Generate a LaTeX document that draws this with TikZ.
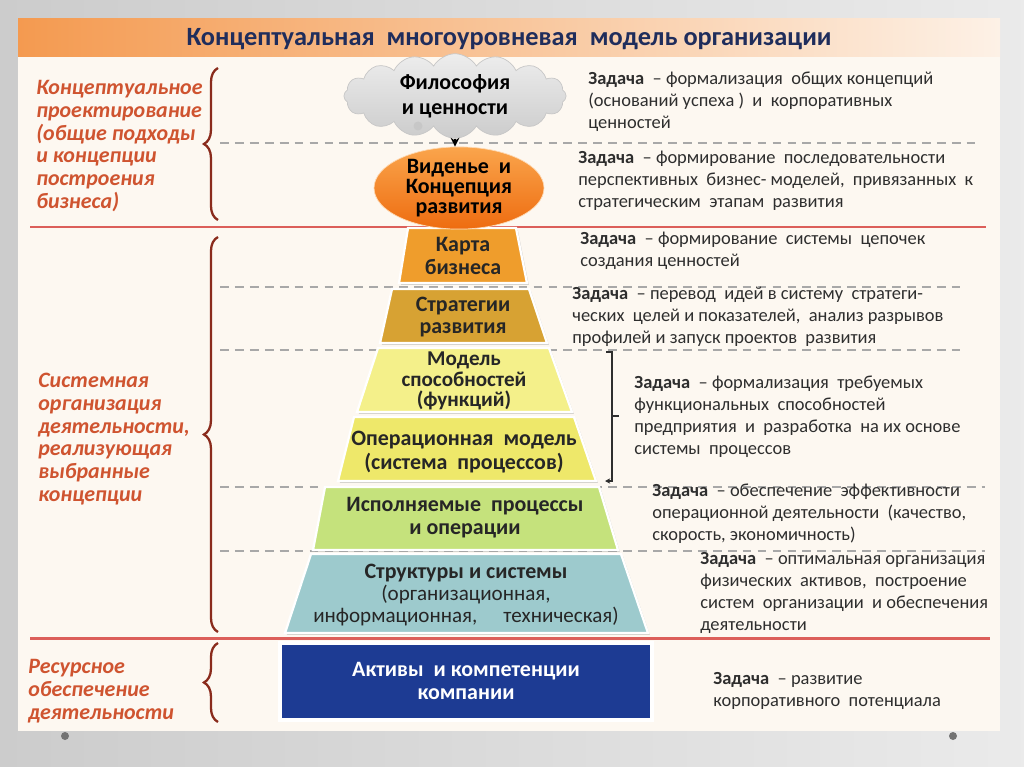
\documentclass[tikz,border=0pt]{standalone}
\usepackage{fontspec}
\setmainfont{Carlito}
\usetikzlibrary{shapes.geometric,shapes.symbols,shadows,decorations.pathreplacing,arrows.meta}

\definecolor{panelbg}{HTML}{FDF8F1}
\definecolor{titleOrange}{HTML}{F49A50}
\definecolor{titlePale}{HTML}{FDF1E6}
\definecolor{titlenavy}{HTML}{1F2D5C}
\definecolor{leftred}{HTML}{CF5430}
\definecolor{bracered}{HTML}{8A2B1C}
\definecolor{ruleRed}{HTML}{DC5F5A}
\definecolor{dashgray}{HTML}{A8A8A8}
\definecolor{taskgray}{HTML}{2E2E2E}
\definecolor{cVisionTop}{HTML}{FAA54C}
\definecolor{cVision}{HTML}{EE6C10}
\definecolor{cKarta}{HTML}{EF9D2C}
\definecolor{cStrat}{HTML}{D7A233}
\definecolor{cModel}{HTML}{F4F08A}
\definecolor{cOper}{HTML}{EEE86A}
\definecolor{cProc}{HTML}{C5E27C}
\definecolor{cStruct}{HTML}{9DCACD}
\definecolor{cAssets}{HTML}{1D3B93}

\newcommand{\zadacha}{\textbf{Задача}}

\begin{document}
\begin{tikzpicture}[x=0.02cm, y=-0.02cm,
    lefttext/.style={anchor=west, align=left, text=leftred, inner sep=0pt,
        font=\fontsize{12.5}{13}\selectfont\bfseries\itshape},
    tasktext/.style={anchor=west, align=left, text=taskgray, inner sep=0pt,
        font=\fontsize{10.5}{12.5}\selectfont},
    layertext/.style={align=center, text=black!85, inner sep=0pt,
        font=\fontsize{12.5}{12}\selectfont\bfseries},
    pyrlayer/.style={draw=white, line width=1.3pt,
        drop shadow={shadow xshift=1pt, shadow yshift=-1pt, opacity=.35}},
    redrule/.style={draw=ruleRed, line width=1.7pt},
    dashrule/.style={draw=dashgray, line width=1pt, dash pattern=on 5pt off 3.5pt},
    leftbrace/.style={draw=bracered, line width=1.3pt, decorate,
        decoration={brace, amplitude=8pt}},
]
    %FON
    \shade[left color=black!20, right color=black!8] (0,0) rectangle (1024,767);
    \fill[panelbg] (18,19) rectangle (1000,731);
    \shade[left color=titleOrange, right color=titlePale] (18,19) rectangle (1000,57);
    \node[font=\fontsize{15}{18}\selectfont\bfseries, text=titlenavy] (title) at (509,39)
        {Концептуальная~ многоуровневая~ модель организации};
    \fill[black!55] (65,736) circle (4);
    \fill[black!55] (953,736) circle (4);

    %LINII
    \draw[dashrule] (220,143) -- (975,143);
    \draw[redrule] (30,227) -- (986,227);
    \draw[dashrule] (220,287) -- (960,287);
    \draw[dashrule] (220,350) -- (960,350);
    \draw[dashrule] (220,487) -- (985,487);
    \draw[dashrule] (220,551) -- (985,551);
    \draw[redrule] (30,638) -- (990,638);

    %SKOBKI
    \draw[leftbrace] (218,220) -- (218,68);
    \draw[leftbrace] (218,632) -- (218,237);
    \draw[leftbrace] (218,722) -- (218,643);
    \node[lefttext] (concept) at (36,146) {Концептуальное\\проектирование\\(общие подходы\\и концепции\\построения\\бизнеса)};
    \node[lefttext] (system) at (38,439) {Системная\\организация\\деятельности,\\реализующая\\выбранные\\концепции};
    \node[lefttext] (resource) at (28,691) {Ресурсное\\обеспечение\\деятельности};

    %PIRAMIDA
    \filldraw[pyrlayer, fill=cKarta] (408,228) -- (516,228) -- (527,283) -- (399,283) -- cycle;
    \filldraw[pyrlayer, fill=cStrat] (392,289) -- (529,289) -- (547,343) -- (380,343) -- cycle;
    \filldraw[pyrlayer, fill=cModel] (378,348) -- (549,348) -- (572,412) -- (357,412) -- cycle;
    \filldraw[pyrlayer, fill=cOper] (354,417) -- (574,417) -- (596,481) -- (338,481) -- cycle;
    \filldraw[pyrlayer, fill=cProc] (325,487) -- (599,487) -- (618,550) -- (313,550) -- cycle;
    \filldraw[pyrlayer, fill=cStruct] (311,554) -- (621,554) -- (648,633) -- (285,633) -- cycle;
    \filldraw[pyrlayer, fill=cAssets, line width=2pt] (280,643) rectangle (652,720);

    \node[layertext] (karta) at (463,256) {Карта\\[1pt]бизнеса};
    \node[layertext] (strategy) at (463,317) {Стратегии\\развития};
    \node[layertext, font=\fontsize{12}{11.5}\selectfont\bfseries] (capability) at (464,381) {Модель\\способностей\\(функций)};
    \node[layertext] (opmodel) at (464,452) {Операционная~ модель\\[2pt](система~ процессов)};
    \node[layertext] (processes) at (465,518) {Исполняемые~ процессы\\[1pt]и операции};
    \node[layertext] (structures) at (466,595) {Структуры и системы\\[0.5pt]
        \fontsize{12}{12}\selectfont\mdseries (организационная,\\[0.5pt]\fontsize{12}{12}\selectfont\mdseries информационная, \quad техническая)};
    \node[layertext, text=white] (assets) at (466,681) {Активы~ и компетенции\\[1pt]компании};

    %OBLAKO
    \node[cloud, cloud puffs=16, cloud puff arc=120, aspect=3.6, inner sep=0pt,
        minimum width=4.3cm, minimum height=1.2cm, draw=black!22,
        top color=black!7, bottom color=black!20,
        font=\fontsize{12.5}{12}\selectfont\bfseries, align=center] (philosophy) at (455,96)
        {Философия\\[2pt]и ценности};
    \fill[black!22] (418,126) circle (4.5);
    \node[ellipse, minimum width=3.4cm, minimum height=1.34cm, draw=white!70!orange,
        top color=cVisionTop, bottom color=cVision, inner sep=0pt,
        font=\fontsize{12.5}{11.5}\selectfont\bfseries, align=center] (vision) at (459,188)
        {Виденье~ и\\Концепция\\развития};
    \draw[-{Stealth[length=5pt,width=5pt]}, line width=1.1pt] (philosophy.south) -- (philosophy.south |- vision.north);

    %ZADACHI
    \node[tasktext] (task1) at (588,102) {\zadacha~ – формализация~ общих концепций\\(оснований успеха )~ и~ корпоративных\\ценностей};
    \node[tasktext] (task2) at (578,181) {\zadacha~ – формирование~ последовательности\\перспективных~ бизнес- моделей,~ привязанных~ к\\стратегическим~ этапам~ развития};
    \node[tasktext] (task3) at (580,251) {\zadacha~ – формирование~ системы~ цепочек\\создания ценностей};
    \node[tasktext] (task4) at (572,317) {\zadacha~ – перевод~ идей в систему~ стратеги-\\ческих~ целей и показателей,~ анализ разрывов\\профилей и запуск проектов~ развития};
    \node[tasktext] (task5) at (634,417) {\zadacha~ – формализация~ требуемых\\функциональных~ способностей\\предприятия~ и~ разработка~ на их основе\\системы~ процессов};
    \node[tasktext] (task6) at (652,514) {\zadacha~ – обеспечение~ эффективности\\операционной деятельности~ (качество,\\скорость, экономичность)};
    \node[tasktext] (task7) at (700,593) {\zadacha~ – оптимальная организация\\физических~ активов,~ построение\\систем~ организации~ и обеспечения\\деятельности};
    \node[tasktext] (task8) at (713,691) {\zadacha~ – развитие\\корпоративного~ потенциала};
    \draw[-{Stealth[length=3pt,width=3pt]}, line width=0.9pt, taskgray] (606,352) -- (612,352) -- (612,481) -- (605,481);
    \draw[line width=0.9pt, taskgray] (612,416) -- (619,416);
\end{tikzpicture}
\end{document}
